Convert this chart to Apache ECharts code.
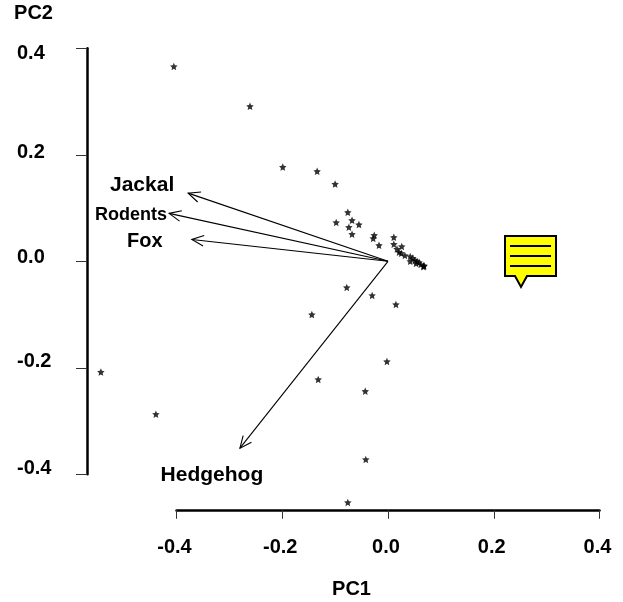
<!DOCTYPE html>
<html><head><meta charset="utf-8">
<style>html,body{margin:0;padding:0;background:#fff}#c{width:623px;height:602px}</style>
<script src="https://cdn.jsdelivr.net/npm/echarts@6/dist/echarts.min.js"></script>
</head><body><div id="c"></div>
<script>
const xTicks = [-0.4, -0.2, 0, 0.2, 0.4];
const yTicks = [-0.4, -0.2, 0, 0.2, 0.4];
const scores = [
[-0.405,0.366],[-0.261,0.291],[-0.199,0.177],[-0.134,0.169],[-0.100,0.145],[-0.098,0.073],
[-0.076,0.092],[-0.068,0.077],[-0.055,0.069],[-0.074,0.064],[-0.068,0.051],[-0.026,0.049],
[-0.028,0.043],[-0.017,0.030],[0.011,0.045],[0.011,0.032],[0.026,0.028],[0.017,0.023],
[0.021,0.017],[0.025,0.015],[0.032,0.011],[0.042,0.009],[0.042,0],[0.047,0.006],[0.051,0.002],
[0.055,0],[0.053,-0.004],[0.059,-0.002],[0.062,-0.006],[0.068,-0.009],[0.068,-0.008],[0.067,-0.010],
[-0.078,-0.049],[-0.030,-0.064],[0.015,-0.081],[-0.144,-0.100],[-0.002,-0.188],[-0.132,-0.222],
[-0.043,-0.244],[-0.543,-0.208],[-0.439,-0.287],[-0.042,-0.372],[-0.076,-0.453]];
const arrowNames = ['Jackal','Rodents','Fox','Hedgehog'];
const arrowTips = [[-0.378,0.128],[-0.414,0.090],[-0.371,0.041],[-0.280,-0.351]];
const labelPos = [[-0.465,0.142],[-0.486,0.0864],[-0.460,0.0365],[-0.333,-0.401]];
const labelSize = [21,18,20,21];
const yLabelShift = {'0.4':5,'0.2':-2.5,'0.0':-3.5,'-0.2':-6,'-0.4':-6};
const font = '"Liberation Sans", Arial, sans-serif';
const star = 'path://M50 0L64 32L100 36L74 60L81 95L50 77L19 95L26 60L0 36L36 32Z';
const chart = echarts.init(document.getElementById('c'), null, {renderer:'canvas'});
const tickLabel = {fontFamily:font,fontWeight:'bold',fontSize:20,color:'#000'};
chart.setOption({
  animation:false,
  grid:{left:176.5,top:48.3,width:423,height:426,containLabel:false},
  xAxis:{type:'value',min:-0.4,max:0.4,interval:0.2,position:'bottom',offset:35.5,splitLine:{show:false},
    axisLine:{show:true,onZero:false,lineStyle:{color:'#000',width:2.5}},
    axisTick:{show:true,length:9,lineStyle:{color:'#333',width:1}},
    axisLabel:Object.assign({margin:28,padding:[0,4,0,0],showMinLabel:true,showMaxLabel:true,hideOverlap:false,formatter:v=>v.toFixed(1)},tickLabel)},
  yAxis:{type:'value',min:-0.4,max:0.4,interval:0.2,position:'left',offset:89.5,splitLine:{show:false},
    axisLine:{show:true,onZero:false,lineStyle:{color:'#000',width:2.5}},
    axisTick:{show:true,length:11,lineStyle:{color:'#333',width:1}},
    axisLabel:{show:false}},
  series:[
    {type:'scatter',data:scores,symbol:star,symbolSize:7.5,clip:false,itemStyle:{color:'#000'},silent:true},
    {type:'custom',clip:false,silent:true,data:arrowTips.map((t,i)=>[t[0],t[1],i]),
     encode:{x:0,y:1},
     renderItem(p,api){
       const i=api.value(2), o=api.coord([0,0]), e=api.coord([api.value(0),api.value(1)]);
       const a=Math.atan2(o[1]-e[1],o[0]-e[0]), L=13, w=0.42;
       const lp=api.coord(labelPos[i]);
       const head=s=>[e[0]+L*Math.cos(a+s*w),e[1]+L*Math.sin(a+s*w)];
       const st={stroke:'#000',lineWidth:1.1,fill:null};
       return {type:'group',children:[
         {type:'polyline',shape:{points:[o,e]},style:st},
         {type:'polyline',shape:{points:[head(1),e,head(-1)]},style:st},
         {type:'text',x:lp[0],y:lp[1],style:{text:arrowNames[i],fontFamily:font,fontWeight:'bold',fontSize:labelSize[i],fill:'#000',align:'center',verticalAlign:'middle'}}
       ]};
     }},
    {type:'custom',clip:false,silent:true,data:yTicks.map(v=>[0,v]),encode:{x:0,y:1},
     renderItem(p,api){
       const v=api.value(1), c=api.coord([0,v]), t=v.toFixed(1);
       return {type:'text',x:17,y:c[1]+yLabelShift[t],style:{text:t,fontFamily:font,fontWeight:'bold',fontSize:20,fill:'#000',align:'left',verticalAlign:'middle'}};
     }}
  ],
  graphic:[
    {type:'text',x:33.5,y:13,style:{text:'PC2',fontFamily:font,fontWeight:'bold',fontSize:20,fill:'#000',align:'center',verticalAlign:'middle'}},
    {type:'text',x:351.5,y:589,style:{text:'PC1',fontFamily:font,fontWeight:'bold',fontSize:20,fill:'#000',align:'center',verticalAlign:'middle'}},
    {type:'group',silent:true,children:[
    {type:'polygon',shape:{points:[[505,236],[556,236],[556,276],[527,276],[521,287],[515,276],[505,276]]},style:{fill:'#ffff00',stroke:'#000',lineWidth:2}},
    {type:'line',shape:{x1:510,y1:246,x2:551,y2:246},style:{stroke:'#000',lineWidth:2}},
    {type:'line',shape:{x1:510,y1:256,x2:551,y2:256},style:{stroke:'#000',lineWidth:2}},
    {type:'line',shape:{x1:510,y1:266,x2:551,y2:266},style:{stroke:'#000',lineWidth:2}}
  ]}]
});
</script></body></html>
